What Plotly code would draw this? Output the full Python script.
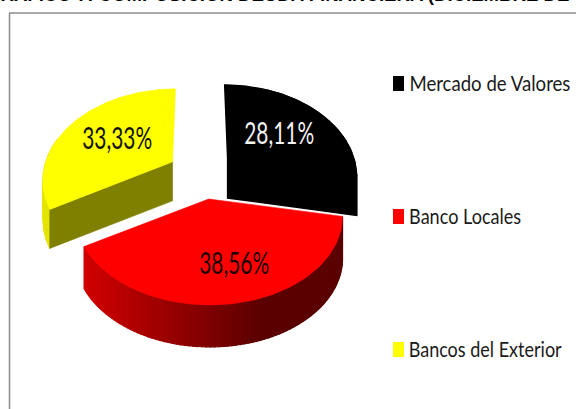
import json
import numpy as np
import plotly.graph_objects as go

# ---- data ----
categories = ["Mercado de Valores", "Banco Locales", "Bancos del Exterior"]
values = [28.11, 38.56, 33.33]
title_text = "GRÁFICO 7: COMPOSICIÓN DEUDA FINANCIERA (DICIEMBRE DE"

# ---- style / geometry ----
colors = ["#000000", "#ff0000", "#ffff00"]
label_colors = ["#f2f2f2", "#1a0000", "#111100"]
pulls = [0.255, 0.317, 0.235]
nudge_x = [2, 2, -1]
scale_x = [0.97, 1.01, 0.975]
depths = [40.0, 42.0, 39.0]
label_xy = [(279, 132), (234, 262), (117, 137)]
legend_y = [82, 215, 348]
legend_widths = [161, 112, 153]
label_width = 70
CX, CY = 200, 172
A, B, P = 130.0, 86.4, 0.184
LEAN = 0.00145
FONT = "Lato"

total = sum(values)
edges = np.cumsum([0] + values) / total * 2 * np.pi


def apex_of(i):
    mid = (edges[i] + edges[i + 1]) / 2
    return CX + nudge_x[i] + A * pulls[i] * np.sin(mid), CY - B * pulls[i] * np.cos(mid)


def rim(i, th):
    apex = apex_of(i)
    u, v = np.sin(th), -np.cos(th)
    d = 1 - P * v
    sy = B * v / d
    sx = scale_x[i] * A * u / d + (apex[0] - CX) * sy * LEAN
    return apex[0] + sx, apex[1] + sy


def poly(xs, ys, color, lw=0.6):
    return go.Scatter(
        x=xs, y=ys, mode="lines", fill="toself", fillcolor=color,
        line=dict(color=color, width=lw), hoverinfo="skip", showlegend=False,
    )


def red_wall_color(x):
    stops_x = [83, 200, 262, 345]
    r = np.interp(x, stops_x, [0xd2, 0x84, 0x5a, 0x5c])
    return f"rgb({int(r)},0,0)"


def wall_segments(i, a0, a1, color_fn, n, lw=1.2):
    ths = np.linspace(a0, a1, n + 1)
    out = []
    for t0, t1 in zip(ths[:-1], ths[1:]):
        tt = np.linspace(t0, t1, 3)
        x, y = rim(i, tt)
        xs = list(x) + list(x[::-1]) + [x[0]]
        ys = list(y) + list(y[::-1] + depths[i]) + [y[0]]
        out.append(poly(xs, ys, color_fn(float(x.mean())), lw))
    return out


def radial_wall(i, th, color, lw=0.6):
    ap = apex_of(i)
    x, y = rim(i, th)
    return poly([ap[0], x, x, ap[0], ap[0]],
                [ap[1], y, y + depths[i], ap[1] + depths[i], ap[1]], color, lw)


def top_face(i, lw=0.6):
    ap = apex_of(i)
    tt = np.linspace(edges[i], edges[i + 1], 90)
    x, y = rim(i, tt)
    return poly([ap[0]] + list(x) + [ap[0]], [ap[1]] + list(y) + [ap[1]], colors[i], lw)


fig = go.Figure()

# black slice: walls are the same black as its top
fig.add_traces(wall_segments(0, edges[0] + 0.4, edges[1], lambda x: "#000000", 10, 1.5))
fig.add_trace(radial_wall(0, edges[1], "#000000", 1.5))
fig.add_trace(top_face(0, 1.5))

# yellow slice
fig.add_traces(wall_segments(2, edges[2], edges[2] + 0.8, lambda x: "#e4e400", 8))
fig.add_trace(radial_wall(2, edges[2], "#808000"))
fig.add_trace(top_face(2))

# red slice
fig.add_traces(wall_segments(1, edges[1], edges[2], red_wall_color, 90))
fig.add_trace(top_face(1))

fit_widths = {}
annotations = []
for i, (lx, ly) in enumerate(label_xy):
    txt = f"{values[i]:.2f}".replace(".", ",") + "%"
    fit_widths[txt] = label_width
    annotations.append(dict(
        x=lx, y=ly, xref="x", yref="y", showarrow=False, xanchor="center", yanchor="middle",
        text=txt, font=dict(family=FONT, size=30, color=label_colors[i]),
    ))
shapes = [
    dict(type="line", xref="x", yref="y", x0=9.5, x1=9.5, y0=13, y1=409,
         line=dict(color="#8c8c8c", width=1.5)),
    dict(type="line", xref="x", yref="y", x0=9, x1=576, y0=13, y1=13,
         line=dict(color="#8c8c8c", width=1.5)),
]
for i, cat in enumerate(categories):
    ly = legend_y[i]
    shapes.append(dict(type="rect", xref="x", yref="y", x0=393, x1=404,
                       y0=ly - 7 + 1, y1=ly + 8 + 1, fillcolor=colors[i], line=dict(width=0)))
    fit_widths[cat] = legend_widths[i]
    annotations.append(dict(
        x=409 + legend_widths[i] / 2, y=ly, xref="x", yref="y", showarrow=False,
        xanchor="center", yanchor="middle",
        text=cat, font=dict(family=FONT, size=21, color="#1a1a1a"),
    ))
annotations.append(dict(
    x=-16 / 576, y=(409 - 7.4) / 409, xref="paper", yref="paper", showarrow=False,
    xanchor="left", yanchor="bottom", text="<b>" + title_text + "</b>",
    font=dict(family="Liberation Sans", size=18.6, color="#000000"),
))

fig.update_layout(
    width=576, height=409, margin=dict(l=0, r=0, t=0, b=0),
    paper_bgcolor="white", plot_bgcolor="white", showlegend=False,
    xaxis=dict(range=[0, 576], visible=False, fixedrange=True),
    yaxis=dict(range=[409, 0], visible=False, fixedrange=True),
    annotations=annotations, shapes=shapes,
)
post = """
document.body.style.margin='0';
var fitWidths = %s;
function fitText() {
  document.querySelectorAll('.annotation-text').forEach(function (t) {
    var w = fitWidths[t.textContent];
    if (w) { t.setAttribute('textLength', w); t.setAttribute('lengthAdjust', 'spacingAndGlyphs'); }
  });
}
fitText();
setTimeout(fitText, 50);
""" % json.dumps(fit_widths)
fig.write_html("out.html", config={"displayModeBar": False}, post_script=post)
